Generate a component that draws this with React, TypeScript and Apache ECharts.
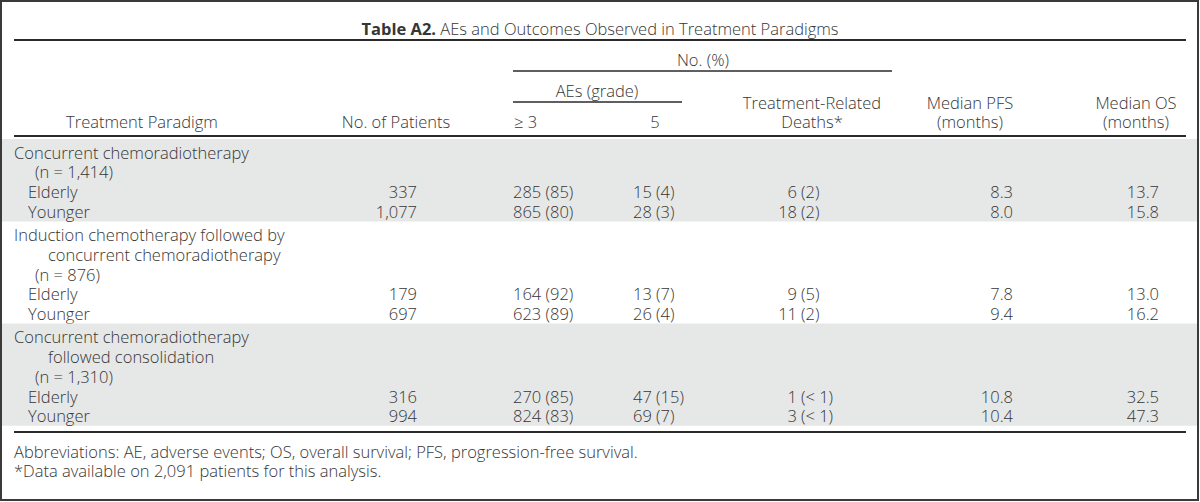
import React, { useEffect, useRef } from "react";
import * as echarts from "echarts";

// ---- Data ----
const titleBold = "Table A2.";
const titleRest = " AEs and Outcomes Observed in Treatment Paradigms";

const headerSpan = "No. (%)";
const headerAE = "AEs (grade)";
const colHeaders = ["Treatment Paradigm", "No. of Patients", "\u2265 3", "5"];
const twoLineHeaders = [
  ["Treatment-Related", "Deaths*"],
  ["Median PFS", "(months)"],
  ["Median OS", "(months)"],
];

const groupNames = [
  ["Concurrent chemoradiotherapy"],
  ["Induction chemotherapy followed by", "concurrent chemoradiotherapy"],
  ["Concurrent chemoradiotherapy", "followed consolidation"],
];
const groupSizes = ["(n = 1,414)", "(n = 876)", "(n = 1,310)"];
const subgroups = ["Elderly", "Younger"];

const patients = ["337", "1,077", "179", "697", "316", "994"];
const aeGrade3 = ["285 (85)", "865 (80)", "164 (92)", "623 (89)", "270 (85)", "824 (83)"];
const aeGrade5 = ["15 (4)", "28 (3)", "13 (7)", "26 (4)", "47 (15)", "69 (7)"];
const deathsN = ["6", "18", "9", "11", "1", "3"];
const deathsPct = ["(2)", "(2)", "(5)", "(2)", "(< 1)", "(< 1)"];
const medianPFS = ["8.3", "8.0", "7.8", "9.4", "10.8", "10.4"];
const medianOS = ["13.7", "15.8", "13.0", "16.2", "32.5", "47.3"];

const footnotes = [
  "Abbreviations: AE, adverse events; OS, overall survival; PFS, progression-free survival.",
  "*Data available on 2,091 patients for this analysis.",
];

// ---- Style ----
const W = 1200;
const H = 502;
const FONT = "'Open Sans'";
const FS = 16.5;
const TXT = "#363636";
const BAND = "#e6e7e7";

function txt(x: number, y: number, text: string, align: string = "left", extra: any = {}) {
  return {
    type: "text",
    x,
    y,
    silent: true,
    style: {
      text,
      fill: TXT,
      font: `300 ${FS}px ${FONT}`,
      textAlign: align,
      textVerticalAlign: "middle",
      ...extra,
    },
  };
}

function hline(x1: number, x2: number, y: number, w: number) {
  return {
    type: "line",
    silent: true,
    shape: { x1, y1: y, x2, y2: y },
    style: { stroke: "#2a2a2a", lineWidth: w },
  };
}

function buildGraphics() {
  const els: any[] = [];
  els.push({
    type: "rect",
    silent: true,
    shape: { x: 1, y: 1, width: W - 3, height: H - 3 },
    style: { fill: "#fff", stroke: "#3a3a3a", lineWidth: 2 },
  });

  els.push({
    type: "text",
    x: 600,
    y: 28,
    silent: true,
    style: {
      text: `{b|${titleBold}}{r|${titleRest}}`,
      textAlign: "center",
      textVerticalAlign: "middle",
      rich: {
        b: { fontFamily: FONT, fontWeight: 700, fontSize: FS, fill: TXT },
        r: { fontFamily: FONT, fontWeight: 300, fontSize: FS, fill: TXT },
      },
    },
  });
  els.push(hline(14, 1186, 40, 2));

  els.push(txt(703, 59, headerSpan, "center"));
  els.push(hline(513, 892, 71, 1.6));
  els.push(txt(597, 90, headerAE, "center"));
  els.push(hline(513, 682, 102, 1.6));

  const twoLineX = [812, 970, 1136];
  twoLineHeaders.forEach((lines, i) => {
    lines.forEach((l, j) => els.push(txt(twoLineX[i], 102 + j * 19.5, l, "center")));
  });

  els.push(txt(142, 121.5, colHeaders[0], "center"));
  els.push(txt(396, 121.5, colHeaders[1], "center"));
  els.push(txt(514, 121.5, colHeaders[2], "left"));
  els.push(txt(655, 121.5, colHeaders[3], "center"));
  els.push(hline(14, 1186, 136, 2));

  const step = 19.8;
  let top = 139;
  let r = 0;
  groupNames.forEach((names, g) => {
    const nLines = names.length + 1 + subgroups.length;
    const first = top + 13;
    const bottom = first + (nLines - 1) * step + 10;
    if (g % 2 === 0) {
      els.push({
        type: "rect",
        silent: true,
        shape: { x: 2, y: top, width: W - 5, height: bottom - top },
        style: { fill: BAND },
      });
    }
    names.forEach((l, i) => {
      els.push(txt(i === 0 ? 14 : 48, first + i * step, l, "left"));
    });
    els.push(txt(35, first + names.length * step, groupSizes[g], "left"));
    subgroups.forEach((s, k) => {
      const y = first + (names.length + 1 + k) * step;
      els.push(txt(28, y, s, "left"));
      els.push(txt(417, y, patients[r], "right"));
      els.push(txt(513, y, aeGrade3[r], "left"));
      els.push(txt(633, y, aeGrade5[r], "left"));
      els.push(txt(797, y, deathsN[r], "right"));
      els.push(txt(801, y, deathsPct[r], "left"));
      els.push(txt(1013, y, medianPFS[r], "right"));
      els.push(txt(1159, y, medianOS[r], "right"));
      r++;
    });
    top = bottom;
  });

  els.push(hline(14, 1186, 432, 2));
  footnotes.forEach((f, i) => els.push(txt(14, 451 + i * 19, f, "left")));
  return els;
}

export default function App() {
  const ref = useRef<HTMLDivElement>(null);
  useEffect(() => {
    if (!ref.current) return;
    const chart = echarts.init(ref.current, undefined, { renderer: "svg", width: W, height: H });
    chart.setOption({
      animation: false,
      backgroundColor: "#fff",
      graphic: { elements: buildGraphics() },
    });
    return () => chart.dispose();
  }, []);
  return (
    <div
      ref={ref}
      style={{ position: "fixed", left: 0, top: 0, width: W, height: H, background: "#fff" }}
    />
  );
}
